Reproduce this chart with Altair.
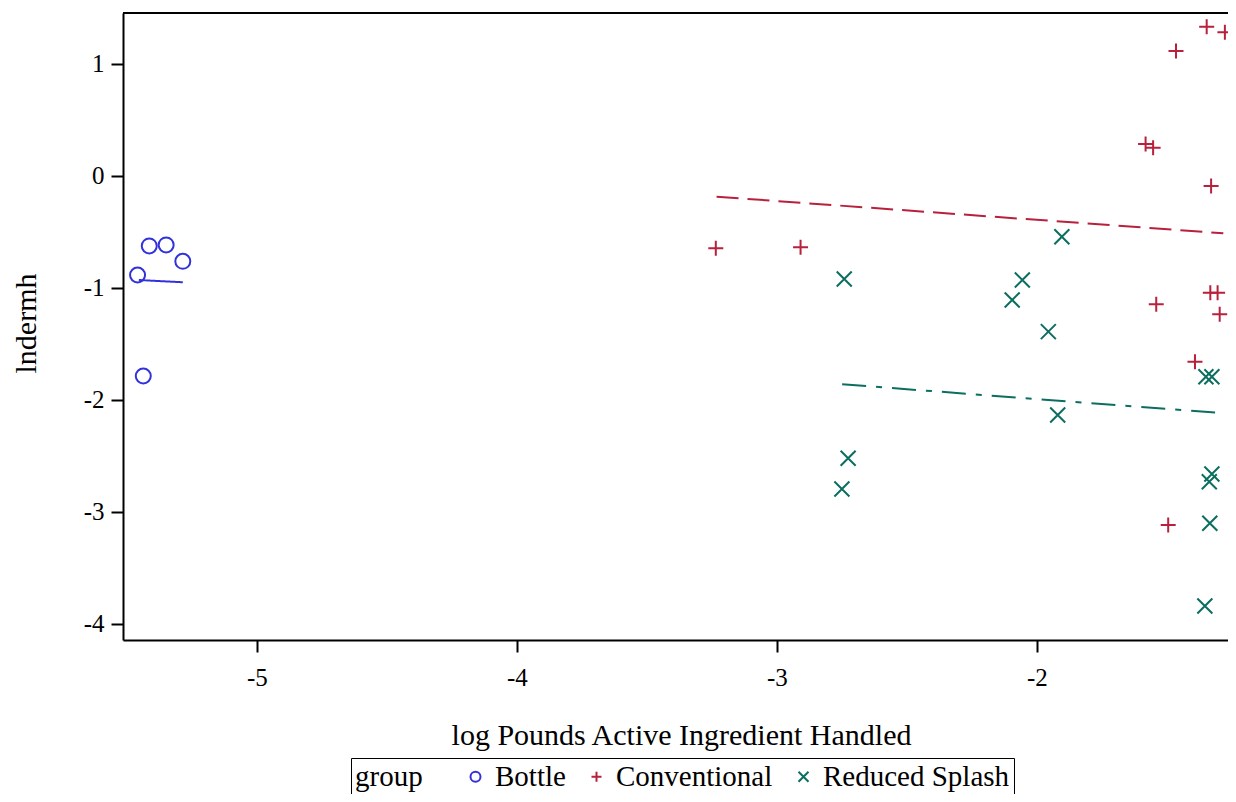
import altair as alt
import pandas as pd

groups = ["Bottle", "Conventional", "Reduced Splash"]
colors = ["#3232DC", "#B8203C", "#0C6E60"]
dashes = [[1, 0], [22, 9], [24, 10, 6, 10]]

bottle_x = [-5.414, -5.349, -5.285, -5.459, -5.437]
bottle_y = [-0.625, -0.616, -0.762, -0.884, -1.786]

conv_x = [-1.347, -1.277, -1.465, -1.582, -1.553, -1.330, -1.541, -1.333,
          -1.305, -1.297, -1.392, -1.495, -3.235, -2.909]
conv_y = [1.333, 1.283, 1.116, 0.286, 0.253, -0.089, -1.146, -1.042,
          -1.042, -1.235, -1.658, -3.116, -0.646, -0.637]

red_x = [-1.350, -1.327, -1.327, -1.337, -1.335, -1.354, -2.741, -1.904,
         -2.056, -2.095, -1.956, -1.920, -2.726, -2.750]
red_y = [-1.792, -1.792, -2.661, -2.730, -3.100, -3.840, -0.920, -0.542,
         -0.929, -1.107, -1.390, -2.134, -2.520, -2.795]

# fitted lines (endpoints)
fit_bottle_x = [-5.454, -5.285]
fit_bottle_y = [-0.929, -0.949]
fit_conv_x = [-3.232, -1.283]
fit_conv_y = [-0.185, -0.512]
fit_red_x = [-2.749, -1.312]
fit_red_y = [-1.860, -2.113]

x_ticks = [-5, -4, -3, -2]
y_ticks = [-4, -3, -2, -1, 0, 1]

pts = pd.DataFrame(
    {"x": bottle_x + conv_x + red_x,
     "y": bottle_y + conv_y + red_y,
     "group": [groups[0]] * len(bottle_x) + [groups[1]] * len(conv_x) + [groups[2]] * len(red_x)}
)
fit_sets = [(fit_bottle_x, fit_bottle_y), (fit_conv_x, fit_conv_y), (fit_red_x, fit_red_y)]

FONT = "Liberation Serif"
W, H = 1105, 627

xs = alt.Scale(domain=[-5.515, -1.265], nice=False, zero=False)
ys = alt.Scale(domain=[-4.143, 1.455], nice=False, zero=False)

xax = alt.Axis(values=x_ticks, title="log Pounds Active Ingredient Handled",
               titlePadding=30, labelPadding=13, labelExpr="datum.value + ''",
               titleX=558)
yax = alt.Axis(values=y_ticks, title="lndermh", titlePadding=42, labelPadding=7,
               labelExpr="datum.value + ''", titleY=310)

shapes = ["circle", "M-1,0L1,0M0,-1L0,1", "M-1,-1L1,1M-1,1L1,-1"]

leg = alt.Legend(
    orient="none", legendX=228, legendY=745, direction="horizontal", titleOrient="left",
    title="group", titleFont=FONT, titleFontSize=29, titleFontWeight="normal",
    titleColor="black", labelFont=FONT, labelFontSize=29, labelColor="black",
    labelLimit=400, strokeColor="black", padding=4, titlePadding=38,
    columnPadding=16, labelOffset=5, symbolSize=100, symbolStrokeWidth=2,
    cornerRadius=0,
)

points = alt.Chart(pts).mark_point(filled=False, size=225, strokeWidth=2, opacity=1).encode(
    x=alt.X("x:Q", scale=xs, axis=xax),
    y=alt.Y("y:Q", scale=ys, axis=yax),
    color=alt.Color("group:N", scale=alt.Scale(domain=groups, range=colors), legend=leg),
    shape=alt.Shape("group:N", scale=alt.Scale(domain=groups, range=shapes), legend=leg),
)

line_layers = []
for (fx, fy), col, dash in zip(fit_sets, colors, dashes):
    df = pd.DataFrame({"x": fx, "y": fy})
    line_layers.append(
        alt.Chart(df).mark_line(strokeWidth=2, color=col, strokeDash=dash).encode(
            x=alt.X("x:Q", scale=xs), y=alt.Y("y:Q", scale=ys)
        )
    )

top = alt.Chart(pd.DataFrame({"a": [0]})).mark_rule(color="black", strokeWidth=2).encode(
    x=alt.value(0), x2=alt.value(W), y=alt.value(0)
)

chart = alt.layer(*line_layers, points, top).properties(
    width=W, height=H,
    autosize=alt.AutoSizeParams(type="none"),
    padding={"left": 115, "top": 5, "right": 0, "bottom": 154},
).configure_view(stroke=None).configure_axis(
    grid=False, domainColor="black", domainWidth=2, tickColor="black", tickWidth=2,
    tickSize=12, labelFont=FONT, labelFontSize=25, labelColor="black",
    titleFont=FONT, titleFontSize=30, titleFontWeight="normal", titleColor="black",
)

chart.save("out.html", embed_options={"renderer": "svg", "actions": False})
